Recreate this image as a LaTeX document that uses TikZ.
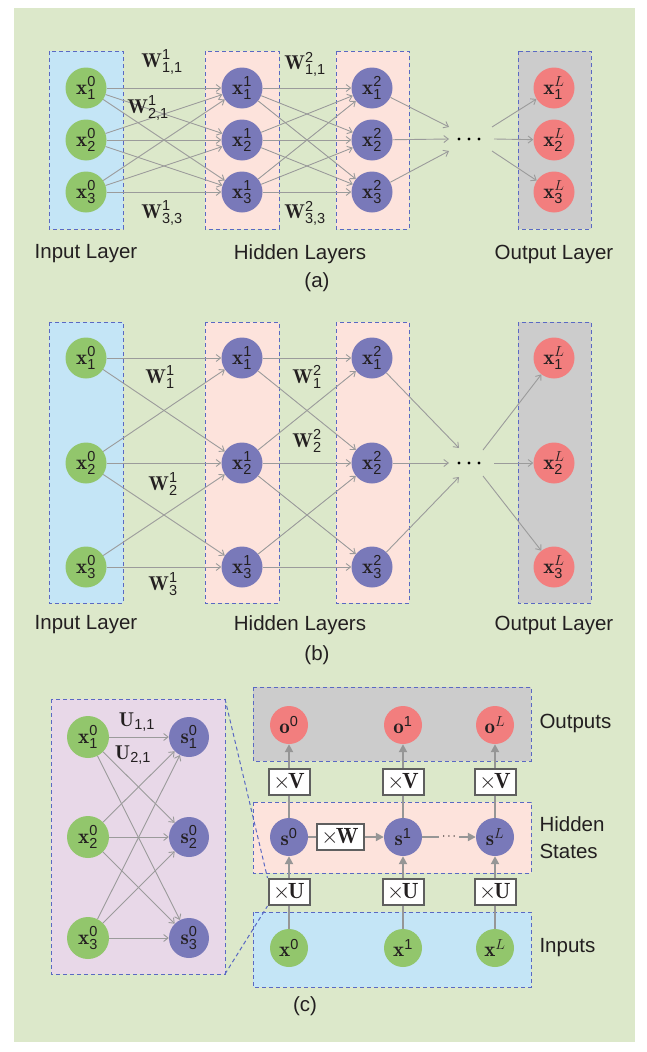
\RequirePackage{fix-cm}
\documentclass[tikz,border=0pt]{standalone}
\usepackage{fontspec}
\setsansfont{Liberation Sans}
\usetikzlibrary{arrows.meta}
\definecolor{bgc}{RGB}{220,232,202}
\definecolor{bluebox}{RGB}{196,229,246}
\definecolor{pinkbox}{RGB}{253,227,220}
\definecolor{graybox}{RGB}{204,204,204}
\definecolor{purpbox}{RGB}{232,216,232}
\definecolor{gnode}{RGB}{146,198,108}
\definecolor{pnode}{RGB}{121,121,185}
\definecolor{rnode}{RGB}{242,126,126}
\definecolor{dashc}{RGB}{90,105,195}
\definecolor{arc}{RGB}{155,155,155}
\definecolor{thc}{RGB}{150,150,150}
\definecolor{mulc}{RGB}{95,95,95}
\definecolor{txt}{RGB}{35,31,32}
\newcommand\sfs[1]{\hbox{\fontsize{14.5}{14.5}\selectfont\sffamily #1}}
\newcommand\Lit{\hbox{\fontsize{14.5}{14.5}\selectfont$L$}}
\newcommand\xn[2]{$\mathbf{x}^{#1}_{\sfs{#2}}$}
\newcommand\tms[1]{$\times\mkern-2mu\mathbf{#1}$}
\tikzset{
 lbox/.style={draw=dashc, dash pattern=on 4pt off 3pt, line width=1pt},
 nd/.style={circle, minimum size=41pt, inner sep=0pt, font=\fontsize{21}{22}\selectfont, text=txt},
 gn/.style={nd, fill=gnode},
 pn/.style={nd, fill=pnode},
 rn/.style={nd, fill=rnode},
 ar/.style={draw=arc, line width=0.9pt, -{Straight Barb[length=4.5pt,width=7pt]}},
 thk/.style={draw=thc, line width=2.2pt},
 tar/.style={thk, -{Triangle[length=8pt,width=8pt]}},
 mul/.style={draw=mulc, line width=2pt, fill=white, minimum width=41pt, minimum height=26pt, inner sep=0pt, font=\fontsize{22}{22}\selectfont, text=txt},
 lbl/.style={font=\fontsize{20.5}{27}\selectfont\sffamily, text=txt},
 wl/.style={font=\fontsize{20}{22}\selectfont, inner sep=0pt, text=txt},
}
\begin{document}
\begin{tikzpicture}[x=1pt,y=-1pt]
\useasboundingbox (0,0) rectangle (647,1052);
\fill[bgc] (14,8) rectangle (635,1042);
% ================= panel (a)
\filldraw[lbox, fill=bluebox] (49,51) rectangle (123,229);
\filldraw[lbox, fill=pinkbox] (205,51) rectangle (279,229);
\filldraw[lbox, fill=pinkbox] (336,51) rectangle (409,229);
\filldraw[lbox, fill=graybox] (518,51) rectangle (591,229);
\foreach \i/\y in {1/88,2/140,3/192}{
  \node[gn] (a0\i) at (86,\y) {\xn{\sfs{0}}{\i}};
  \node[pn] (a1\i) at (242,\y) {\xn{\sfs{1}}{\i}};
  \node[pn] (a2\i) at (372,\y) {\xn{\sfs{2}}{\i}};
  \node[rn] (aL\i) at (554,\y) {\xn{\Lit}{\i}};
}
\foreach \i in {1,2,3}{\foreach \j in {1,2,3}{
  \draw[ar] (a0\i) -- (a1\j);
  \draw[ar] (a1\i) -- (a2\j);
}}
\coordinate (ad1) at (449,127); \coordinate (ad2) at (449,139); \coordinate (ad3) at (449,151);
\coordinate (ae1) at (492,127); \coordinate (ae2) at (494,139); \coordinate (ae3) at (492,151);
\foreach \i in {1,2,3}{
  \draw[ar] (a2\i) -- (ad\i);
  \draw[ar] (ae\i) -- (aL\i);
}
\foreach \x in {459,469,479}{\fill[black] (\x,139) circle (1.6pt);}
\node[wl] (wa1) at (162,62) {$\mathbf{W}^{\sfs{1}}_{\sfs{1,1}}$};
\node[wl] (wa2) at (148,108) {$\mathbf{W}^{\sfs{1}}_{\sfs{2,1}}$};
\node[wl] (wa3) at (162,213) {$\mathbf{W}^{\sfs{1}}_{\sfs{3,3}}$};
\node[wl] (wa4) at (305,64) {$\mathbf{W}^{\sfs{2}}_{\sfs{1,1}}$};
\node[wl] (wa5) at (305,213) {$\mathbf{W}^{\sfs{2}}_{\sfs{3,3}}$};
\node[lbl] (ta1) at (86,254) {Input Layer};
\node[lbl] (ta2) at (300,254) {Hidden Layers};
\node[lbl] (ta3) at (554,254) {Output Layer};
\node[lbl] (ta4) at (317,282) {(a)};
% ================= panel (b)
\filldraw[lbox, fill=bluebox] (49,322) rectangle (123,603);
\filldraw[lbox, fill=pinkbox] (205,322) rectangle (279,603);
\filldraw[lbox, fill=pinkbox] (336,322) rectangle (409,603);
\filldraw[lbox, fill=graybox] (518,322) rectangle (591,603);
\foreach \i/\y in {1/358,2/463,3/567}{
  \node[gn] (b0\i) at (86,\y) {\xn{\sfs{0}}{\i}};
  \node[pn] (b1\i) at (242,\y) {\xn{\sfs{1}}{\i}};
  \node[pn] (b2\i) at (372,\y) {\xn{\sfs{2}}{\i}};
  \node[rn] (bL\i) at (554,\y) {\xn{\Lit}{\i}};
}
\foreach \i/\j in {1/1,1/2,2/1,2/2,2/3,3/2,3/3}{
  \draw[ar] (b0\i) -- (b1\j);
  \draw[ar] (b1\i) -- (b2\j);
}
\coordinate (bd1) at (459,448); \coordinate (bd2) at (449,463); \coordinate (bd3) at (459,477);
\coordinate (be1) at (483,450); \coordinate (be2) at (494,463); \coordinate (be3) at (483,476);
\foreach \i in {1,2,3}{
  \draw[ar] (b2\i) -- (bd\i);
  \draw[ar] (be\i) -- (bL\i);
}
\foreach \x in {459,469,479}{\fill[black] (\x,463) circle (1.6pt);}
\node[wl] (wb1) at (160,377) {$\mathbf{W}^{\sfs{1}}_{\sfs{1}}$};
\node[wl] (wb2) at (163,484) {$\mathbf{W}^{\sfs{1}}_{\sfs{2}}$};
\node[wl] (wb3) at (163,584) {$\mathbf{W}^{\sfs{1}}_{\sfs{3}}$};
\node[wl] (wb4) at (307,377) {$\mathbf{W}^{\sfs{2}}_{\sfs{1}}$};
\node[wl] (wb5) at (307,441) {$\mathbf{W}^{\sfs{2}}_{\sfs{2}}$};
\node[lbl] (tb1) at (86,625) {Input Layer};
\node[lbl] (tb2) at (300,625) {Hidden Layers};
\node[lbl] (tb3) at (554,625) {Output Layer};
\node[lbl] (tb4) at (317,655) {(b)};
% ================= panel (c)
\filldraw[lbox, fill=purpbox] (51,699) rectangle (225,974);
\coordinate (pne) at (225,699); \coordinate (pse) at (225,974);
\foreach \i/\y in {1/737,2/837,3/938}{
  \node[gn, minimum size=42pt] (c0\i) at (88,\y) {\xn{\sfs{0}}{\i}};
  \node[pn, minimum size=40pt] (c1\i) at (189,\y) {$\mathbf{s}^{\sfs{0}}_{\sfs{\i}}$};
}
\foreach \i in {1,2,3}{\foreach \j in {1,2,3}{
  \draw[ar] (c0\i) -- (c1\j);
}}
\node[wl] (u11) at (137,722) {$\mathbf{U}_{\sfs{1,1}}$};
\node[wl] (u21) at (133,755) {$\mathbf{U}_{\sfs{2,1}}$};
% RNN
\filldraw[lbox, fill=graybox] (253,687) rectangle (531,761);
\filldraw[lbox, fill=pinkbox] (253,802) rectangle (531,873);
\filldraw[lbox, fill=bluebox] (253,912) rectangle (531,987);
\foreach \n/\x/\s in {0/289/\sfs{0},1/403/\sfs{1},L/495/\Lit}{
  \node[rn, minimum size=38pt] (o\n) at (\x,725) {$\mathbf{o}^{\s}$};
  \node[pn, minimum size=38pt] (s\n) at (\x,837) {$\mathbf{s}^{\s}$};
  \node[gn, minimum size=38pt] (x\n) at (\x,948) {$\mathbf{x}^{\s}$};
  \node[mul] (v\n) at (\x,782) {\tms{V}};
  \node[mul] (u\n) at (\x,892) {\tms{U}};
  \draw[thk] (x\n) -- (u\n);
  \draw[tar] (u\n) -- (s\n);
  \draw[thk] (s\n) -- (v\n);
  \draw[tar] (v\n) -- (o\n);
}
\node[mul, minimum width=47pt] (w) at (340,837) {\tms{W}};
\node[font=\fontsize{12}{12}\selectfont, inner xsep=3pt, inner ysep=0pt] (dt) at (449,837) {$\cdots$};
\draw[thk] (s0) -- (w);
\draw[tar] (w) -- (s1);
\draw[thk] (s1) -- (dt);
\draw[tar] (dt) -- (sL);
\draw[lbox] (pne) -- (u0.north west);
\draw[lbox] (pse) -- (u0.south west);
\node[lbl, anchor=west] (to) at (536,723) {Outputs};
\node[lbl, anchor=west, align=left] (th) at (536,838) {Hidden\\States};
\node[lbl, anchor=west] (ti) at (536,948) {Inputs};
\node[lbl] (tc) at (305,1006) {(c)};
\end{tikzpicture}
\end{document}
